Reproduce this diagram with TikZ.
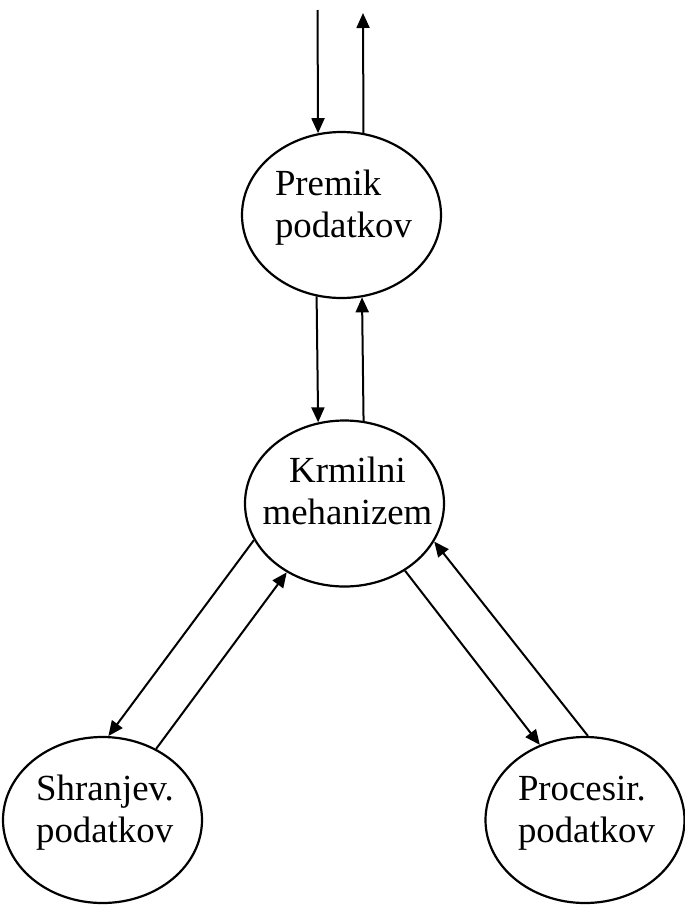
\documentclass[tikz,border=0pt]{standalone}
\usepackage{fontspec}
\setmainfont{Liberation Serif}
\usetikzlibrary{arrows.meta,shapes.geometric}
\begin{document}
\begin{tikzpicture}[x=1pt,y=-1pt,
  bubble/.style={draw, ellipse, line width=2.2pt, minimum width=199pt, minimum height=166pt, inner sep=0pt},
  txt/.style={inner sep=0pt, font=\fontsize{36.8}{42}\selectfont},
  flow/.style={line width=2pt, -{Triangle[length=15pt,width=13pt]}}]
\useasboundingbox (0,0) rectangle (685,905);
\newcommand{\hs}{\rule{0pt}{30pt}}
\newcommand{\ds}{\rule[-30pt]{0pt}{30pt}}
% ellipses
\node[bubble] (P) at (341.5,215) {};
\node[bubble] (M) at (344.5,503.5) {};
\node[bubble] (S) at (102.5,820) {};
\node[bubble] (R) at (585,820) {};
% texts
\node[txt, align=left] (Pt) at (343.5,216) {\hs Premik\\podatkov\ds};
\node[txt, align=center] (Mt) at (347.5,503.5) {\hs Krmilni\\mehanizem\ds};
\node[txt, align=left] (St) at (105,821) {\hs Shranjev.\\podatkov\ds};
\node[txt, align=left] (Rt) at (586.5,821) {\hs Procesir.\\podatkov\ds};
% free ends
\coordinate (inTop) at (317.5,10);
\coordinate (outTop) at (363,13);
% arrows
\draw[flow] (inTop) -- (P.106.6);
\draw[flow] (P.75.1) -- (outTop);
\draw[flow] (P.253.4) -- (M.108.7);
\draw[flow] (M.77.2) -- (P.284.9);
\draw[flow] (M.202.6) -- (S.86.9);
\draw[flow] (S.53.4) -- (M.230.4);
\draw[flow] (M.312.8) -- (R.121);
\draw[flow] (R.88) -- (M.337.5);
\end{tikzpicture}
\end{document}
